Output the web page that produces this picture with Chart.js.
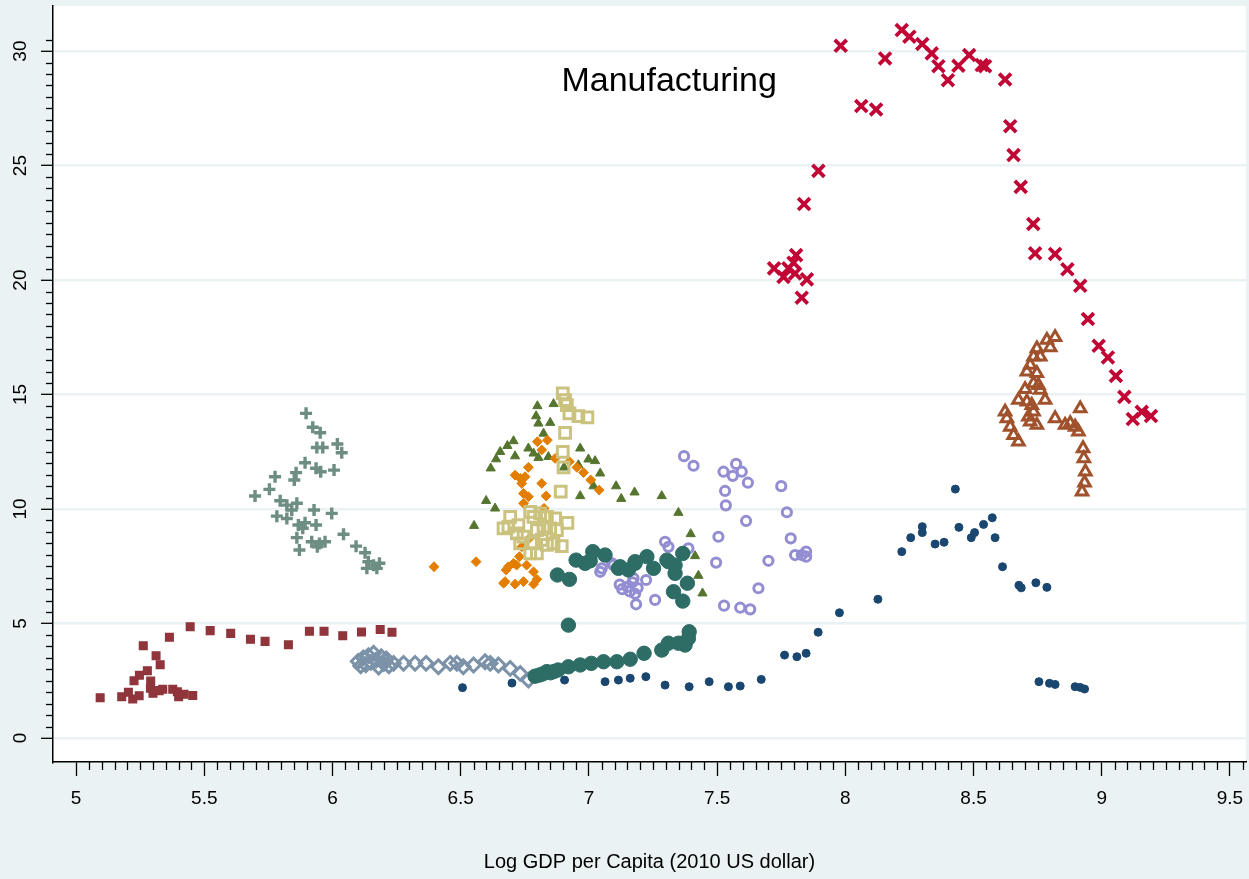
<!DOCTYPE html>
<html>
<head>
<meta charset="utf-8">
<script src="https://cdn.jsdelivr.net/npm/chart.js@4.4.0/dist/chart.umd.min.js"></script>
<style>
  html, body { margin: 0; padding: 0; background: #eaf2f3; }
  #wrap { width: 1249px; height: 879px; }
</style>
</head>
<body>
<div id="wrap"><canvas id="chart" width="1249" height="879"></canvas></div>
<script>
// series values, [log GDP per capita, manufacturing share]
const navyDots = [[6.507,2.20],[6.70,2.40],[6.905,2.53],[7.063,2.46],[7.115,2.53],[7.161,2.61],[7.222,2.68],[7.297,2.31],[7.391,2.24],[7.469,2.46],[7.544,2.24],[7.59,2.27],[7.672,2.56],[7.763,3.62],[7.811,3.55],[7.847,3.70],[7.894,4.62],[7.977,5.47],[8.127,6.06],[8.22,8.14],[8.255,8.75],[8.30,9.23],[8.30,8.97],[8.35,8.47],[8.385,8.55],[8.429,10.87],[8.443,9.20],[8.491,8.75],[8.504,8.97],[8.539,9.33],[8.573,9.62],[8.584,8.75],[8.613,7.48],[8.677,6.67],[8.686,6.56],[8.743,6.78],[8.786,6.58],[8.755,2.46],[8.796,2.39],[8.818,2.34],[8.896,2.24],[8.916,2.21],[8.933,2.14]];
const maroonSquares = [[5.094,1.76],[5.178,1.80],[5.204,2.0],[5.221,1.70],[5.246,1.85],[5.226,2.50],[5.247,2.74],[5.278,2.94],[5.262,4.03],[5.312,3.59],[5.328,3.20],[5.291,2.49],[5.29,2.17],[5.30,1.95],[5.324,2.07],[5.338,2.13],[5.364,4.40],[5.377,2.13],[5.395,2.02],[5.40,1.80],[5.421,1.91],[5.455,1.86],[5.445,4.86],[5.523,4.69],[5.603,4.57],[5.68,4.31],[5.737,4.22],[5.828,4.07],[5.91,4.66],[5.967,4.66],[6.04,4.47],[6.113,4.63],[6.186,4.74],[6.232,4.62]];
const greenTriangles = [[6.799,14.50],[6.862,14.59],[6.794,14.06],[6.803,13.74],[6.849,13.77],[6.823,13.30],[6.706,12.97],[6.682,12.76],[6.654,12.50],[6.638,12.18],[6.712,12.31],[6.764,12.65],[6.784,12.43],[6.803,12.24],[6.842,12.28],[6.966,12.65],[6.903,11.82],[6.959,11.92],[6.998,12.17],[7.024,12.10],[7.044,11.56],[7.018,11.0],[7.106,11.0],[6.966,10.57],[6.617,11.78],[6.599,10.36],[6.634,10.03],[6.552,9.27],[7.126,10.45],[7.178,10.73],[7.284,10.57],[7.349,9.84],[7.397,8.91],[7.414,7.95],[7.427,7.09],[7.443,6.32]];
const orangeDiamonds = [[6.799,12.94],[6.838,13.01],[6.816,12.58],[6.868,12.21],[6.924,12.07],[6.953,11.82],[6.979,11.59],[7.007,11.27],[7.04,10.83],[6.764,11.82],[6.712,11.48],[6.732,11.34],[6.751,11.41],[6.738,11.12],[6.816,11.12],[6.745,10.68],[6.764,10.54],[6.833,10.57],[6.745,10.25],[6.825,10.03],[6.738,8.35],[6.729,7.92],[6.686,7.48],[6.718,7.55],[6.757,7.55],[6.784,7.26],[6.797,6.93],[6.677,7.34],[6.667,6.76],[6.712,6.72],[6.745,6.83],[6.784,6.72],[6.56,7.70],[6.396,7.48],[6.771,8.76],[6.706,7.63],[6.673,6.83]];
const tealPlus = [[5.897,14.18],[5.923,13.57],[5.952,13.33],[5.939,12.69],[5.962,12.69],[6.019,12.84],[6.036,12.46],[5.893,12.02],[5.936,11.78],[5.954,11.63],[6.006,11.70],[5.858,11.59],[5.851,11.27],[5.776,11.41],[5.754,10.86],[5.698,10.57],[5.796,10.36],[5.822,10.17],[5.861,10.25],[5.841,9.96],[5.783,9.69],[5.822,9.59],[5.928,9.96],[5.997,9.81],[5.867,9.30],[5.893,9.40],[5.936,9.30],[5.884,9.16],[5.861,8.75],[5.919,8.57],[5.949,8.50],[5.971,8.57],[5.941,8.35],[5.871,8.21],[6.043,8.90],[6.092,8.38],[6.127,8.09],[6.14,7.70],[6.16,7.55],[6.183,7.63],[6.134,7.41],[6.173,7.41]];
const cranberryX = [[7.982,30.23],[8.155,29.68],[8.062,27.60],[8.12,27.45],[8.22,30.92],[8.25,30.63],[8.30,30.31],[8.337,29.90],[8.363,29.34],[8.40,28.73],[8.441,29.36],[8.483,29.83],[8.532,29.39],[8.545,29.34],[7.895,24.77],[7.839,23.32],[7.808,21.09],[7.722,20.51],[7.759,20.14],[7.778,20.51],[7.798,20.76],[7.804,20.29],[7.85,20.03],[7.83,19.23],[8.623,28.76],[8.643,26.72],[8.656,25.46],[8.684,24.07],[8.733,22.45],[8.74,21.17],[8.818,21.14],[8.866,20.47],[8.916,19.75],[8.946,18.30],[8.988,17.13],[9.024,16.62],[9.055,15.81],[9.088,14.90],[9.121,13.93],[9.156,14.25],[9.192,14.06]];
const lavenderRings = [[7.371,12.31],[7.408,11.89],[7.525,11.63],[7.561,11.45],[7.574,11.97],[7.596,11.63],[7.62,11.15],[7.531,10.79],[7.534,10.16],[7.613,9.48],[7.75,11.0],[7.772,9.86],[7.787,8.72],[7.804,7.99],[7.83,7.99],[7.847,8.14],[7.847,7.92],[7.505,8.79],[7.496,7.66],[7.70,7.74],[7.661,6.54],[7.527,5.78],[7.59,5.69],[7.629,5.62],[7.297,8.57],[7.31,8.35],[7.388,8.28],[7.258,6.03],[7.184,5.84],[7.223,6.90],[7.174,6.97],[7.12,6.7],[7.13,6.5],[7.15,6.6],[7.16,6.4],[7.17,6.8],[7.18,6.3],[7.19,6.55],[7.05,7.41],[7.096,7.55],[7.044,7.26],[7.09,7.63]];
const khakiSquares = [[6.898,15.05],[6.907,14.76],[6.914,14.54],[6.924,14.18],[6.959,14.06],[6.994,14.0],[6.907,13.33],[6.898,12.50],[6.901,11.82],[6.89,10.76],[6.916,9.40],[6.894,8.38],[6.693,9.66],[6.686,9.23],[6.667,9.16],[6.725,9.30],[6.771,9.88],[6.784,9.66],[6.81,9.81],[6.836,9.66],[6.868,9.59],[6.719,8.94],[6.745,8.79],[6.797,9.08],[6.823,9.23],[6.849,9.16],[6.875,9.08],[6.732,8.50],[6.784,8.50],[6.816,8.65],[6.836,8.43],[6.771,8.06],[6.797,8.06],[6.862,8.50]];
const siennaTriangles = [[8.818,17.50],[8.786,17.38],[8.799,17.06],[8.747,17.01],[8.76,16.65],[8.734,16.65],[8.721,16.29],[8.708,16.0],[8.747,15.93],[8.734,15.49],[8.753,15.41],[8.701,15.23],[8.76,15.20],[8.675,14.76],[8.708,14.69],[8.727,14.54],[8.779,14.76],[8.734,14.25],[8.714,14.03],[8.721,13.81],[8.747,13.67],[8.623,14.25],[8.63,13.96],[8.643,13.59],[8.656,13.23],[8.675,12.94],[8.818,13.96],[8.857,13.67],[8.877,13.74],[8.896,13.59],[8.909,13.38],[8.916,14.39],[8.927,12.65],[8.93,12.21],[8.936,11.63],[8.933,11.15],[8.923,10.76]];
const blueDiamonds = [[6.10,3.35],[6.11,3.15],[6.12,3.5],[6.13,3.2],[6.14,3.6],[6.15,3.3],[6.16,3.7],[6.17,3.4],[6.18,3.1],[6.19,3.55],[6.2,3.25],[6.21,3.45],[6.22,3.15],[6.238,3.26],[6.277,3.26],[6.322,3.26],[6.365,3.26],[6.413,3.11],[6.459,3.26],[6.485,3.26],[6.51,3.11],[6.55,3.19],[6.595,3.33],[6.615,3.26],[6.647,3.19],[6.693,3.04],[6.732,2.82],[6.764,2.53]];
const emeraldDots = [[6.79,2.70],[6.807,2.75],[6.82,2.80],[6.836,2.90],[6.85,2.85],[6.862,2.90],[6.88,2.97],[6.92,3.11],[6.966,3.19],[7.009,3.26],[7.057,3.33],[7.109,3.33],[7.161,3.44],[7.215,3.70],[7.284,3.84],[7.31,4.14],[7.349,4.14],[7.375,4.06],[7.388,4.35],[7.391,4.64],[6.92,4.93],[6.877,7.12],[6.924,6.93],[6.95,7.77],[6.985,7.63],[7.015,8.14],[7.005,7.74],[7.063,7.99],[7.115,7.41],[7.122,7.48],[7.154,7.34],[7.18,7.63],[7.18,7.70],[7.226,7.92],[7.252,7.41],[7.304,7.77],[7.31,7.70],[7.336,7.55],[7.336,7.19],[7.366,8.06],[7.384,6.76],[7.33,6.39],[7.366,5.98]];

// axis ticks
const xMajor = [5, 5.5, 6, 6.5, 7, 7.5, 8, 8.5, 9, 9.5];
const yMajor = [0, 5, 10, 15, 20, 25, 30];
const xTitle = 'Log GDP per Capita (2010 US dollar)';
const chartLabel = 'Manufacturing';

const FONT = '"Liberation Sans", Arial, Helvetica, sans-serif';
const BG = '#eaf2f3';

const toXY = arr => arr.map(p => ({ x: p[0], y: p[1] }));

// stata s2color order, later series drawn on top
const seriesDefs = [
  { data: navyDots, color: '#1a476f', style: 'circle', r: 4, bw: 1, fill: true },
  { data: maroonSquares, color: '#90353b', style: 'rect', r: 5.4, bw: 1.4, fill: true },
  { data: greenTriangles, color: '#55752f', style: 'triangle', r: 5.3, bw: 1, fill: true },
  { data: orangeDiamonds, color: '#e37e00', style: 'rectRot', r: 4.9, bw: 1, fill: true },
  { data: tealPlus, color: '#6e8e84', style: 'cross', r: 6, bw: 3.4, fill: false },
  { data: cranberryX, color: '#c10534', style: 'crossRot', r: 8.4, bw: 3.8, fill: false },
  { data: lavenderRings, color: '#938dd2', style: 'circle', r: 4.6, bw: 3, fill: false },
  { data: khakiSquares, color: '#cac27e', style: 'rect', r: 7.6, bw: 3, fill: false },
  { data: siennaTriangles, color: '#a0522d', style: 'triangle', r: 6.6, bw: 3, fill: false },
  { data: blueDiamonds, color: '#7b92a8', style: 'rectRot', r: 6.8, bw: 3, fill: false },
  { data: emeraldDots, color: '#2d6d66', style: 'circle', r: 7.2, bw: 1, fill: true },
];

const datasets = seriesDefs.map((s, i) => ({
  data: toXY(s.data),
  pointStyle: s.style,
  pointRadius: s.r,
  pointBorderWidth: s.bw,
  pointBorderColor: s.color,
  pointBackgroundColor: s.fill ? s.color : 'rgba(0,0,0,0)',
  showLine: false,
  order: seriesDefs.length - i,
}));

const plotBackground = {
  id: 'plotBackground',
  beforeDraw(chart) {
    const { ctx, chartArea: a } = chart;
    ctx.save();
    ctx.fillStyle = BG;
    ctx.fillRect(0, 0, chart.width, chart.height);
    ctx.fillStyle = '#ffffff';
    ctx.fillRect(a.left, a.top, a.right - a.left, a.bottom - a.top);
    ctx.restore();
  }
};

// small ticks between the labelled ones
const minorTicks = {
  id: 'minorTicks',
  afterDraw(chart) {
    const { ctx, scales: { x, y } } = chart;
    ctx.save();
    ctx.strokeStyle = '#000';
    ctx.lineWidth = 1.3;
    for (let i = 0; i <= 91; i++) {
      if (i % 10 === 0) continue;
      const px = Math.round(x.getPixelForValue(5 + i * 0.05)) + 0.5;
      ctx.beginPath();
      ctx.moveTo(px, x.top);
      ctx.lineTo(px, x.top + 8);
      ctx.stroke();
    }
    for (let i = 1; i <= 61; i++) {
      if (i % 10 === 0) continue;
      const py = Math.round(y.getPixelForValue(i * 0.5)) + 0.5;
      ctx.beginPath();
      ctx.moveTo(y.right, py);
      ctx.lineTo(y.right - 7, py);
      ctx.stroke();
    }
    ctx.restore();
  }
};

const plotLabel = {
  id: 'plotLabel',
  afterDatasetsDraw(chart) {
    const { ctx, scales: { x, y } } = chart;
    ctx.save();
    ctx.fillStyle = '#000';
    ctx.font = '34px ' + FONT;
    ctx.textAlign = 'center';
    ctx.textBaseline = 'middle';
    ctx.fillText(chartLabel, x.getPixelForValue(7.313), y.getPixelForValue(28.65));
    ctx.restore();
  }
};

const noPadding = () => ({ left: 0, top: 0, right: 0, bottom: 0 });

const ctx = document.getElementById('chart').getContext('2d');
const myChart = new Chart(ctx, {
  type: 'scatter',
  data: { datasets: datasets },
  options: {
    responsive: false,
    animation: false,
    events: [],
    layout: { autoPadding: false, padding: { top: 6, right: 3, left: 0, bottom: 0 } },
    plugins: {
      legend: { display: false },
      tooltip: { enabled: false },
    },
    scales: {
      x: {
        type: 'linear',
        min: 4.910,
        max: 9.5625,
        afterBuildTicks: s => { s.ticks = xMajor.map(v => ({ value: v })); },
        afterFit: s => { s.height = 117; s.paddingLeft = 0; s.paddingRight = 0; s.getPadding = noPadding; },
        grid: { drawOnChartArea: false, tickLength: 14, tickColor: '#000', tickWidth: 1.3 },
        border: { color: '#000', width: 1.5 },
        ticks: {
          color: '#000',
          font: { size: 19, family: FONT },
          padding: 11,
          maxRotation: 0,
          autoSkip: false,
          callback: v => String(v),
        },
        title: {
          display: true,
          text: xTitle,
          color: '#000',
          font: { size: 20, family: FONT },
          padding: { top: 0, bottom: 5 },
        },
      },
      y: {
        type: 'linear',
        min: -1.048,
        max: 31.97,
        afterBuildTicks: s => { s.ticks = yMajor.map(v => ({ value: v })); },
        afterFit: s => { s.width = 53; s.paddingTop = 0; s.paddingBottom = 0; s.getPadding = noPadding; },
        grid: { color: BG, lineWidth: 2.6, tickLength: 12, tickColor: '#000', tickWidth: 1.3 },
        border: { color: '#000', width: 1.5 },
        ticks: {
          color: '#000',
          font: { size: 19, family: FONT },
          padding: 10,
          minRotation: 90,
          maxRotation: 90,
          crossAlign: 'center',
          autoSkip: false,
          callback: v => String(v),
        },
      },
    },
  },
  plugins: [plotBackground, minorTicks, plotLabel],
});
</script>
</body>
</html>
